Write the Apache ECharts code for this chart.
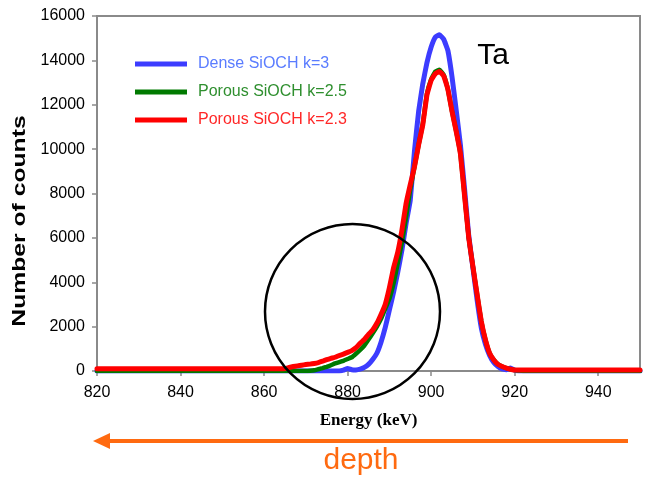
<!DOCTYPE html>
<html>
<head>
<meta charset="utf-8">
<title>Ta RBS spectrum</title>
<script src="https://cdn.jsdelivr.net/npm/echarts@6/dist/echarts.min.js"></script>
<style>
  html, body { margin: 0; padding: 0; background: #fff; }
  #chart { width: 649px; height: 477px; }
</style>
</head>
<body>
<div id="chart"></div>
<script>
// energy channels (keV)
const energy = [820, 864,
  865, 866, 867, 868, 869, 870, 871, 872, 873, 874, 875, 876, 877, 878, 879, 880,
  881, 882, 883, 884, 885, 886, 887, 888, 889, 890, 891, 892, 893, 894, 895, 896,
  897, 898, 899, 900, 901, 902, 903, 904, 905, 906, 907, 908, 909, 910, 911, 912,
  913, 914, 915, 916, 917, 918, 919, 920, 921, 922, 950]

// number of counts
const denseK3 = [0, 0,
  0, 0, 0, 0, 0, 0, 0, 0, 0, 0, 0, 0, 0, 0, 40, 110,
  60, 50, 80, 160, 300, 520, 800, 1300, 1950, 2750, 3550, 4450, 5450, 6650, 7700, 9900,
  11700, 12950, 13900, 14600, 15050, 15150, 14950, 14450, 13250, 11750, 10200, 8200, 6100, 4650, 3200, 1950,
  1200, 700, 380, 200, 90, 60, 130, 40, 0, 0, 0]

const porousK25 = [0, 0,
  0, 0, 0, 0, 0, 0, 10, 30, 80, 130, 190, 260, 340, 400, 460, 540,
  620, 780, 950, 1150, 1420, 1700, 2000, 2350, 2800, 3250, 3950, 4850, 5800, 6950, 8200, 9200,
  10200, 11150, 12500, 13150, 13500, 13580, 13350, 12700, 11700, 10800, 9800, 7900, 6000, 4700, 3450, 2250,
  1400, 800, 500, 300, 200, 130, 80, 40, 20, 0, 0]

const porousK23 = [100, 100,
  110, 160, 200, 230, 260, 290, 310, 340, 380, 440, 510, 570, 620, 700, 760, 840,
  920, 1050, 1250, 1420, 1650, 1850, 2150, 2550, 3000, 3750, 4650, 5350, 6350, 7550, 8400, 9200,
  10200, 11100, 12450, 13100, 13400, 13500, 13300, 12700, 11700, 10800, 9800, 7900, 6000, 4700, 3450, 2250,
  1400, 800, 500, 300, 200, 130, 80, 40, 40, 40, 40]

const seriesNames = ['Dense SiOCH k=3', 'Porous SiOCH k=2.5', 'Porous SiOCH k=2.3']
const lineColors = ['#3c3cff', '#007a00', '#ff0000']
const legendTextColors = ['#5a7cff', '#2f8f2f', '#ff2828']

const xTicks = { min: 820, max: 950, interval: 20 }
const yTicks = { min: 0, max: 16000, interval: 2000 }

function zip(xs, ys) {
  return xs.map((x, i) => [x, ys[i]])
}

const sans = "'Liberation Sans', Arial, sans-serif"
const chart = echarts.init(document.getElementById('chart'))

chart.setOption({
  backgroundColor: '#fff',
  animation: false,
  grid: {
    left: 97,
    right: 9,
    top: 16,
    bottom: 106,
    show: true,
    borderColor: '#8a8a8a',
    borderWidth: 2
  },
  legend: {
    orient: 'vertical',
    left: 130,
    top: 51,
    itemWidth: 52,
    itemHeight: 5,
    itemGap: 12,
    icon: 'rect',
    textStyle: { fontFamily: sans, fontSize: 16, padding: [0, 0, 0, 6] },
    data: seriesNames.map((n, i) => ({ name: n, textStyle: { color: legendTextColors[i] } }))
  },
  xAxis: {
    type: 'value',
    min: xTicks.min,
    max: xTicks.max,
    interval: xTicks.interval,
    name: 'Energy (keV)',
    nameLocation: 'middle',
    nameGap: 41,
    nameTextStyle: {
      fontFamily: "'Liberation Serif', 'Times New Roman', serif",
      fontWeight: 'bold',
      fontSize: 17,
      color: '#000'
    },
    axisLine: { lineStyle: { color: '#8a8a8a', width: 2 } },
    axisTick: { show: true, length: 5, lineStyle: { color: '#8a8a8a', width: 1.5 } },
    axisLabel: {
      showMaxLabel: false, color: '#000', fontFamily: sans, fontSize: 16, margin: 14,
      formatter: v => String(v)
    },
    splitLine: { show: false }
  },
  yAxis: {
    type: 'value',
    min: yTicks.min,
    max: yTicks.max,
    interval: yTicks.interval,
    axisLine: { show: true, lineStyle: { color: '#8a8a8a', width: 2 } },
    axisTick: { show: true, length: 5, lineStyle: { color: '#8a8a8a', width: 1.5 } },
    axisLabel: {
      color: '#000', fontFamily: sans, fontSize: 16, margin: 12,
      formatter: v => String(v)
    },
    splitLine: { show: false }
  },
  series: [denseK3, porousK25, porousK23].map((counts, i) => ({
    name: seriesNames[i],
    type: 'line',
    data: zip(energy, counts),
    showSymbol: false,
    smooth: 0.1,
    color: lineColors[i],
    lineStyle: { color: lineColors[i], width: i === 1 ? 4.5 : 5, join: 'round', cap: 'round' },
    z: 2 + i
  })),
  graphic: [
    // y axis title, stretched along its length like the original
    {
      type: 'text',
      x: 20,
      y: 221,
      rotation: Math.PI / 2,
      scaleX: 1.3,
      style: {
        text: 'Number of counts',
        font: 'bold 19px ' + sans,
        fill: '#000',
        textAlign: 'center',
        textVerticalAlign: 'middle'
      }
    },
    {
      type: 'text',
      x: 493,
      y: 56,
      style: {
        text: 'Ta',
        font: '30px ' + sans,
        fill: '#000',
        textAlign: 'center',
        textVerticalAlign: 'middle'
      },
      z: 10
    },
    // circle around the low-energy tail
    {
      type: 'circle',
      shape: { cx: 352.5, cy: 311.5, r: 87.5 },
      style: { fill: 'none', stroke: '#000', lineWidth: 2.5 },
      z: 10
    },
    // depth arrow
    {
      type: 'line',
      shape: { x1: 105, y1: 441, x2: 628, y2: 441 },
      style: { stroke: '#ff6a10', lineWidth: 4 },
      z: 10
    },
    {
      type: 'polygon',
      shape: { points: [[93, 441], [110, 433], [110, 449]] },
      style: { fill: '#ff6a10' },
      z: 10
    },
    {
      type: 'text',
      x: 361,
      y: 461,
      style: {
        text: 'depth',
        font: '30px ' + sans,
        fill: '#ff6a10',
        textAlign: 'center',
        textVerticalAlign: 'middle'
      },
      z: 10
    }
  ]
})
</script>
</body>
</html>
